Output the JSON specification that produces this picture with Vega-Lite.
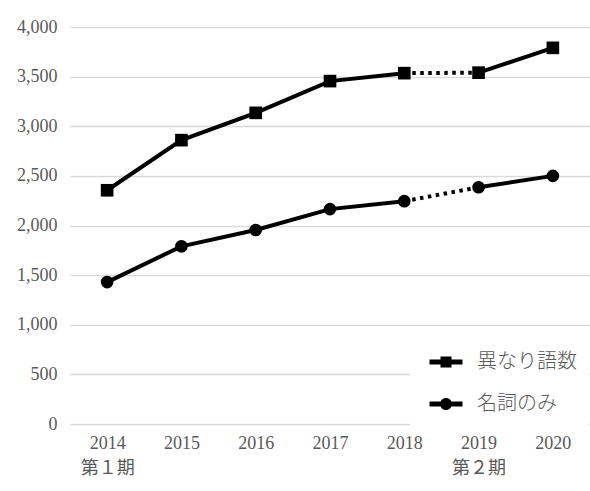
{
  "$schema": "https://vega.github.io/schema/vega-lite/v6.json",
  "autosize": {"type": "none"},
  "width": 520,
  "height": 397,
  "padding": {"left": 70, "top": 27, "right": 0, "bottom": 67},
  "background": "white",
  "config": {
    "view": {"stroke": null},
    "axis": {"labelFont": "Liberation Serif, Noto Sans CJK JP", "labelColor": "#595959", "labelFontSize": 18, "ticks": false, "domain": false, "title": null}
  },
  "data": {
    "values": [
      {"year": "2014", "series": "異なり語数", "value": 2355},
      {"year": "2015", "series": "異なり語数", "value": 2860},
      {"year": "2016", "series": "異なり語数", "value": 3135},
      {"year": "2017", "series": "異なり語数", "value": 3455},
      {"year": "2018", "series": "異なり語数", "value": 3535},
      {"year": "2019", "series": "異なり語数", "value": 3540},
      {"year": "2020", "series": "異なり語数", "value": 3790},
      {"year": "2014", "series": "名詞のみ", "value": 1430},
      {"year": "2015", "series": "名詞のみ", "value": 1790},
      {"year": "2016", "series": "名詞のみ", "value": 1955},
      {"year": "2017", "series": "名詞のみ", "value": 2165},
      {"year": "2018", "series": "名詞のみ", "value": 2245},
      {"year": "2019", "series": "名詞のみ", "value": 2385},
      {"year": "2020", "series": "名詞のみ", "value": 2500}
    ]
  },
  "encoding": {
    "x": {
      "field": "year", "type": "ordinal",
      "scale": {"type": "point", "padding": 0.5},
      "axis": {
        "labelAngle": 0, "labelPadding": 10, "grid": false, "labelLineHeight": 25,
        "labelExpr": "datum.value == '2014' ? ['2014', '第１期'] : datum.value == '2019' ? ['2019', '第２期'] : datum.value"
      }
    },
    "y": {
      "field": "value", "type": "quantitative",
      "scale": {"domain": [0, 4000], "nice": false},
      "axis": {"values": [0, 500, 1000, 1500, 2000, 2500, 3000, 3500, 4000], "format": ",.0f", "labelPadding": 13, "grid": true, "gridColor": "#d9d9d9", "gridWidth": 1.3}
    }
  },
  "layer": [
    {
      "transform": [{"filter": {"field": "year", "oneOf": ["2014", "2015", "2016", "2017", "2018"]}}],
      "mark": {"type": "line", "color": "black", "strokeWidth": 4},
      "encoding": {"detail": {"field": "series"}}
    },
    {
      "transform": [{"filter": {"field": "year", "oneOf": ["2019", "2020"]}}],
      "mark": {"type": "line", "color": "black", "strokeWidth": 4},
      "encoding": {"detail": {"field": "series"}}
    },
    {
      "transform": [{"filter": {"field": "year", "oneOf": ["2018", "2019"]}}],
      "mark": {"type": "line", "color": "black", "strokeWidth": 4, "strokeDash": [3.5, 4.5]},
      "encoding": {"detail": {"field": "series"}}
    },
    {
      "mark": {"type": "point", "filled": true, "color": "black", "opacity": 1, "size": 160},
      "encoding": {
        "shape": {"condition": {"test": "datum.series == '異なり語数'", "value": "square"}, "value": "circle"}
      }
    },
    {
      "mark": {"type": "point", "filled": true, "color": "black", "opacity": 0, "size": 400},
      "encoding": {
        "shape": {
          "field": "series", "type": "nominal",
          "scale": {"domain": ["異なり語数", "名詞のみ"], "range": [
            "M -1.65 -0.25 H 1.65 V 0.25 H -1.65 Z M -0.55 -0.55 H 0.55 V 0.55 H -0.55 Z",
            "M -1.65 -0.25 H 1.65 V 0.25 H -1.65 Z M -0.6 0 A 0.6 0.6 0 1 1 0.6 0 A 0.6 0.6 0 1 1 -0.6 0 Z"
          ]},
          "legend": {
            "title": null,
            "orient": "none",
            "legendX": 340,
            "legendY": 313,
            "padding": 12,
            "fillColor": "white",
            "symbolSize": 400,
            "symbolOffset": 14,
            "labelOffset": 21,
            "rowPadding": 22,
            "labelFont": "Noto Sans CJK JP",
            "labelFontWeight": 300,
            "labelFontSize": 20,
            "labelColor": "#595959",
            "symbolFillColor": "black",
            "symbolOpacity": 1,
            "symbolStrokeWidth": 0
          }
        }
      }
    }
  ]
}
